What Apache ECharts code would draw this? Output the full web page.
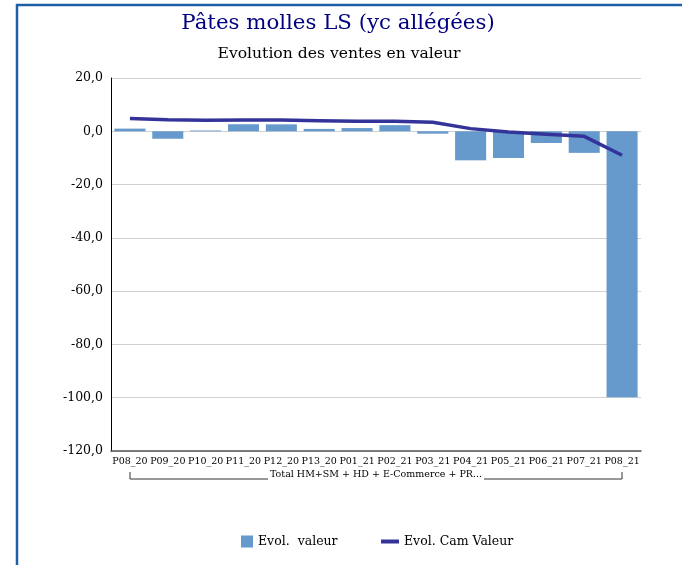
<!DOCTYPE html>
<html><head><meta charset="utf-8">
<script src="https://cdn.jsdelivr.net/npm/echarts@6/dist/echarts.min.js"></script>
<style>html,body{margin:0;padding:0;background:#fff;}#c{width:682px;height:565px;}</style>
</head><body><div id="c"></div>
<script>
const categories = ['P08_20','P09_20','P10_20','P11_20','P12_20','P13_20','P01_21','P02_21','P03_21','P04_21','P05_21','P06_21','P07_21','P08_21'];
const evolValeur = [1.0, -2.8, 0.3, 2.6, 2.6, 0.9, 1.2, 2.3, -0.9, -10.9, -10.0, -4.4, -8.1, -99.8];
const evolCamValeur = [4.8, 4.3, 4.1, 4.2, 4.2, 4.0, 3.8, 3.8, 3.4, 1.0, -0.3, -1.1, -1.9, -9.0];
const groupLabel = ['Total HM+SM + HD + E-Commerce + PR...'];
const yTicks = {min: -120, max: 20, interval: 20};

const serif = '"DejaVu Serif", serif';
const chart = echarts.init(document.getElementById('c'));
chart.setOption({
  animation: false,
  backgroundColor: '#fff',
  title: [
    {text: 'Pâtes molles LS (yc allégées)', left: 333, top: 8, textAlign: 'center',
     textStyle: {fontFamily: serif, fontWeight: 'normal', fontSize: 21.3, color: '#000080'}},
    {text: 'Evolution des ventes en valeur', left: 334, top: 41, textAlign: 'center',
     textStyle: {fontFamily: serif, fontWeight: 'normal', fontSize: 15.6, color: '#000'}}
  ],
  grid: {left: 111, top: 78, width: 530, height: 373, containLabel: false},
  xAxis: {
    type: 'category', data: categories,
    axisLine: {onZero: false, lineStyle: {color: '#555', width: 1.5}},
    axisTick: {show: false},
    axisLabel: {interval: 0, fontFamily: serif, fontSize: 9.5, color: '#000', margin: 6},
    splitLine: {show: false}
  },
  yAxis: {
    type: 'value', min: yTicks.min, max: yTicks.max, interval: yTicks.interval,
    axisLine: {show: true, onZero: false, lineStyle: {color: '#000', width: 1}},
    axisTick: {show: false},
    axisLabel: {fontFamily: serif, fontSize: 12.5, color: '#000', margin: 8,
      formatter: v => v.toFixed(1).replace('.', ',')},
    splitLine: {lineStyle: {color: '#d0d0d0', width: 1}}
  },
  legend: [
    {left: 236, top: 530, itemWidth: 12, itemHeight: 12, itemGap: 10,
     textStyle: {fontFamily: serif, fontSize: 12.5, color: '#000'},
     data: [{name: 'Evol.  valeur', icon: 'rect'}]},
    {left: 376, top: 530, itemWidth: 18, itemHeight: 4, itemGap: 10,
     textStyle: {fontFamily: serif, fontSize: 12.5, color: '#000'},
     data: [{name: 'Evol. Cam Valeur', icon: 'rect', itemStyle: {color: '#333399'}}]}
  ],
  series: [
    {name: 'Evol.  valeur', type: 'bar', data: evolValeur, barCategoryGap: '18%',
     itemStyle: {color: '#6699cc'}},
    {name: 'Evol. Cam Valeur', type: 'line', data: evolCamValeur, symbol: 'none',
     lineStyle: {color: '#333399', width: 3.5}, itemStyle: {color: '#333399'}}
  ],
  graphic: [
    {type: 'rect', shape: {x: 17, y: 5, width: 700, height: 600},
     style: {fill: 'none', stroke: '#1f5fa8', lineWidth: 2.5}},
    {type: 'polyline', shape: {points: [[130, 472], [130, 479], [268, 479]]},
     style: {stroke: '#333', lineWidth: 1, fill: 'none'}},
    {type: 'polyline', shape: {points: [[484, 479], [622, 479], [622, 472]]},
     style: {stroke: '#333', lineWidth: 1, fill: 'none'}},
    {type: 'text', x: 376, y: 470, style: {text: groupLabel[0], fontFamily: serif, fontSize: 9.5,
      fill: '#000', align: 'center', verticalAlign: 'top'}}
  ]
});
</script></body></html>
